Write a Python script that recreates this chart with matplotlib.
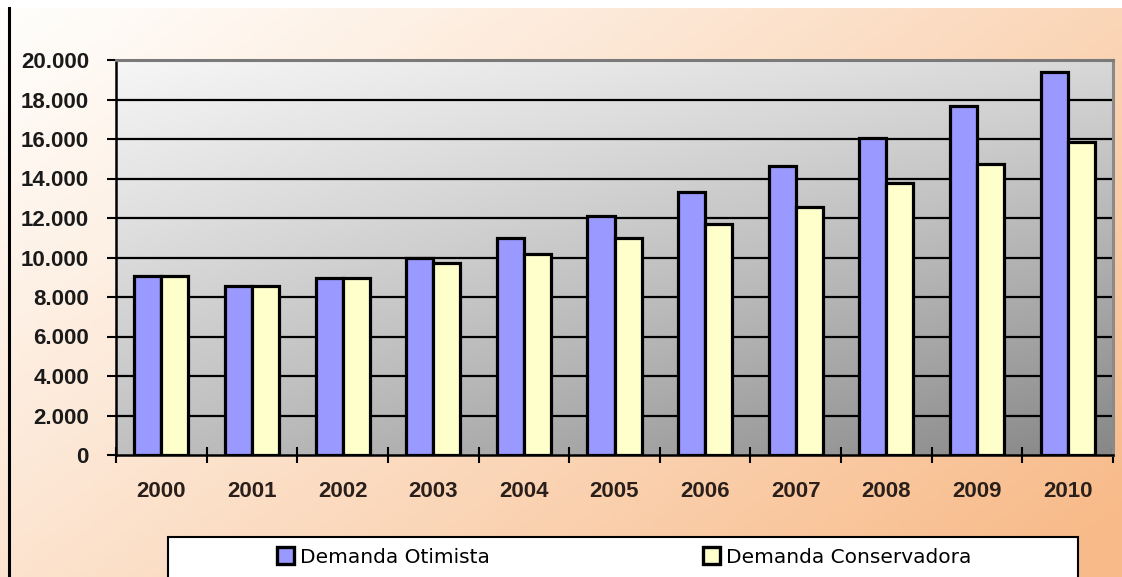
import numpy as np
import matplotlib
matplotlib.use("Agg")
import matplotlib.pyplot as plt
from matplotlib.patches import Rectangle
from matplotlib.lines import Line2D
from matplotlib.ticker import FuncFormatter

anos = ["2000", "2001", "2002", "2003", "2004", "2005", "2006", "2007", "2008", "2009", "2010"]
demanda_otimista = [9050, 8550, 8950, 9950, 11000, 12100, 13300, 14630, 16050, 17670, 19390]
demanda_conservadora = [9050, 8550, 8950, 9700, 10180, 11000, 11700, 12580, 13770, 14730, 15850]
rotulos = ["Demanda Otimista", "Demanda Conservadora"]

plt.rcParams['font.family'] = ['Liberation Sans', 'DejaVu Sans']

W, H = 1122, 577
fig = plt.figure(figsize=(W / 100, H / 100), dpi=100)

# fundo da figura (gradiente branco -> pessego)
bg = fig.add_axes([0, 0, 1, 1 - 8 / H], zorder=-10)
xx, yy = np.meshgrid(np.linspace(0, 1, 300), np.linspace(0, 1, 160))
t = np.clip(0.62 * xx + 0.42 * yy, 0, 1) ** 1.1
c0 = np.array([255, 254, 252]) / 255
c1 = np.array([248, 186, 136]) / 255
img = c0[None, None, :] * (1 - t[..., None]) + c1[None, None, :] * t[..., None]
bg.imshow(img, aspect='auto', origin='upper', extent=(0, 1, 0, 1))
bg.set_axis_off()

# linha vertical a esquerda
fig.add_artist(Line2D([9 / W, 9 / W], [0, 1 - 8 / H], color='black', lw=2.2))

ax = fig.add_axes([116 / W, 1 - 455 / H, (1113 - 116) / W, (455 - 60) / H])
x = np.arange(len(anos))
ax.set_xlim(-0.5, len(anos) - 0.5)
ax.set_ylim(0, 20000)

# fundo da area do grafico (gradiente cinza)
gx, gy = np.meshgrid(np.linspace(0, 1, 200), np.linspace(0, 1, 200))
tl, tr, bl, br = 246, 216, 192, 135
g = (tl * (1 - gx) * (1 - gy) + tr * gx * (1 - gy) + bl * (1 - gx) * gy + br * gx * gy) / 255
ax.imshow(np.dstack([g, g, g]), aspect='auto', origin='upper',
          extent=(-0.5, len(anos) - 0.5, 0, 20000), zorder=0)

for yv in range(2000, 20000, 2000):
    ax.axhline(yv, color='black', lw=1.6, zorder=1)

w = 0.298
b1 = ax.bar(x - w / 2, demanda_otimista, w, color='#9999FF', edgecolor='black', lw=2.3, zorder=3)
b2 = ax.bar(x + w / 2, demanda_conservadora, w, color='#FFFFCC', edgecolor='black', lw=2.3, zorder=3)

ax.spines['top'].set_color('#7a7a7a')
ax.spines['right'].set_color('#8a8a8a')
ax.spines['top'].set_linewidth(2.2)
ax.spines['right'].set_linewidth(2.2)
ax.spines['left'].set_linewidth(1.8)
ax.spines['bottom'].set_linewidth(1.8)

ax.set_yticks(range(0, 20001, 2000))
ax.yaxis.set_major_formatter(FuncFormatter(lambda v, p: f"{int(v):,}".replace(",", ".")))
ax.tick_params(axis='y', length=6.5, width=1.5, pad=13, labelsize=16, labelcolor='#1a1a1a')
for lb in ax.get_yticklabels():
    lb.set_fontweight('bold')

ax.set_xticks(x)
ax.set_xticklabels(anos, fontsize=16, fontweight='bold', color='#2a1f1a')
ax.tick_params(axis='x', which='major', length=0, pad=19)
ax.set_xticks(np.arange(-0.5, len(anos), 1), minor=True)
ax.tick_params(axis='x', which='minor', direction='inout', length=12, width=1.5)

# legenda
fig.add_artist(Rectangle((168 / W, -0.02), (1078 - 168) / W, (577 - 537) / H + 0.02,
                         transform=fig.transFigure, facecolor='white',
                         edgecolor='black', lw=1.5, zorder=5))
for handle, rot, x0 in [(b1, rotulos[0], 277), (b2, rotulos[1], 703)]:
    leg = fig.legend([handle], [rot], loc='center left',
                     bbox_to_anchor=(x0 / W, 1 - 557 / H), frameon=False,
                     prop={'family': 'DejaVu Sans', 'size': 14.5},
                     handlelength=0.85, handleheight=0.85,
                     handletextpad=0.3, borderpad=0, borderaxespad=0)
    leg.set_zorder(6)
    for h in leg.legend_handles:
        h.set_linewidth(2.4)

fig.savefig("out.png", dpi=100)
